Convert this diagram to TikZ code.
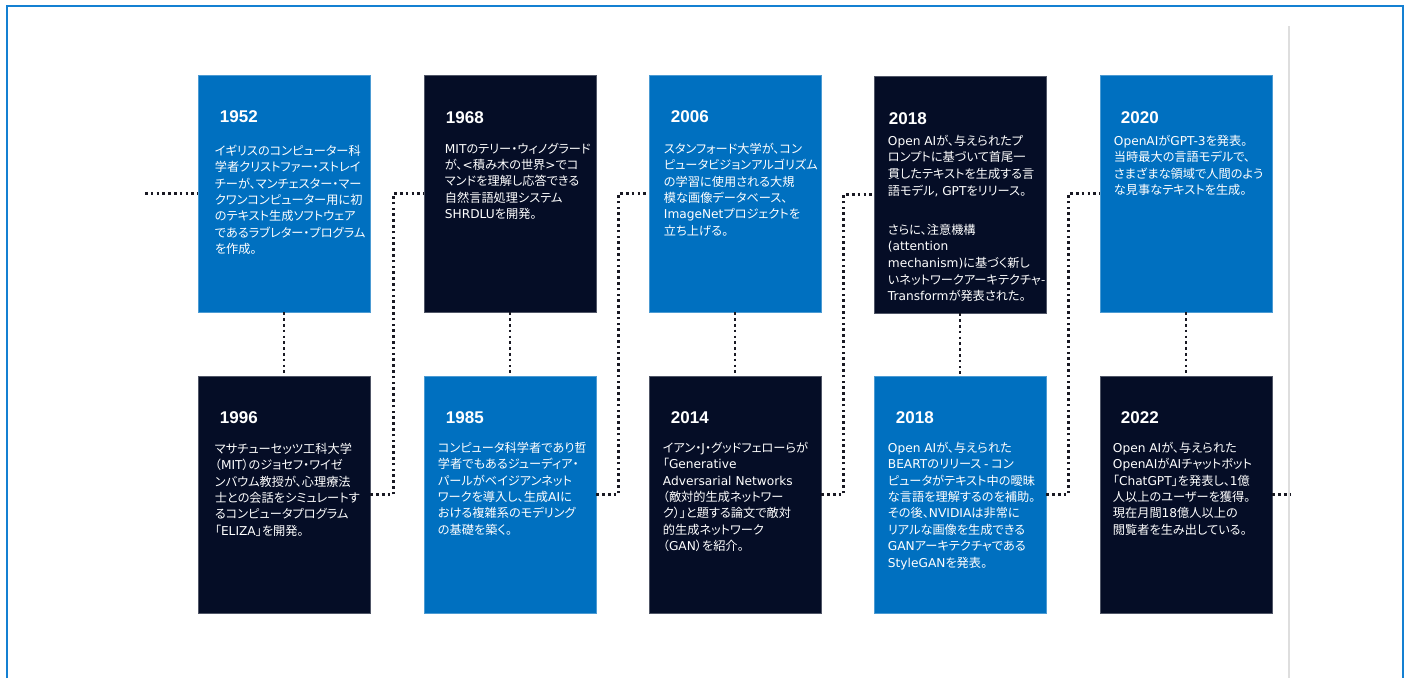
\documentclass[tikz,border=0pt]{standalone}
\usepackage{fontspec}
\usepackage{xcolor}
\usetikzlibrary{positioning}

\newfontfamily\jpfont{Noto Sans CJK JP}[RawFeature={+palt}]
\newfontfamily\engfont{DejaVu Sans}
\newfontfamily\yearfont{Liberation Sans}
\newcommand{\eng}[1]{{\engfont #1}}

\definecolor{tlblue}{RGB}{0,112,192}
\definecolor{tlnavy}{RGB}{5,13,38}
\definecolor{frameblue}{RGB}{20,128,210}
\definecolor{dotcol}{RGB}{25,25,35}

\begin{document}
\begin{tikzpicture}[x=1pt,y=-1pt,
    card/.style={minimum width=172pt,minimum height=237pt,inner sep=0pt},
    bluecard/.style={card,fill=tlblue,draw=tlblue!70!white,line width=0.6pt},
    navycard/.style={card,fill=tlnavy,draw=tlnavy!70!white,line width=0.6pt},
    year/.style={anchor=north west,inner sep=0pt,text=white,
      font=\yearfont\bfseries\fontsize{17}{20}\selectfont},
    body/.style={anchor=north west,inner sep=0pt,text=white,align=left,
      font=\jpfont\fontsize{12.2}{16.4}\selectfont},
    dotline/.style={dotcol,line width=2.6pt,dash pattern=on 2.6pt off 3.2pt}]
  \useasboundingbox (0,0) rectangle (1409,678);

  % frame and right rule
  \draw[frameblue,line width=1.2pt] (7,678) -- (7,6) -- (1403,6) -- (1403,678);
  \draw[black!13,line width=1.4pt] (1289,26) -- (1289,678);

  % top row
  \node[bluecard] (c1952) at (284,193.5) {};
  \node[navycard] (c1968) at (510,193.5) {};
  \node[bluecard] (c2006) at (735,193.5) {};
  \node[navycard] (c2018a) at (960,194.5) {};
  \node[bluecard] (c2020) at (1186,193.5) {};
  % bottom row
  \node[navycard] (c1996) at (284,494.5) {};
  \node[bluecard] (c1985) at (510,494.5) {};
  \node[navycard] (c2014) at (735,494.5) {};
  \node[bluecard] (c2018b) at (960,494.5) {};
  \node[navycard] (c2022) at (1186,494.5) {};

  \node[year] (y1952) at ([xshift=22pt,yshift=-36pt]c1952.north west) {1952};
  \node[body] (t1952) at ([xshift=17pt,yshift=-70pt]c1952.north west)
    {イギリスのコンピューター科\\学者クリストファー・ストレイ\\チーが、マンチェスター・マー\\クワンコンピューター用に初\\のテキスト生成ソフトウェア\\であるラブレター・プログラム\\を作成。};

  \node[year] (y1968) at ([xshift=22pt,yshift=-37pt]c1968.north west) {1968};
  \node[body] (t1968) at ([xshift=21pt,yshift=-68pt]c1968.north west)
    {\eng{MIT}のテリー・ウィノグラード\\が、\eng{<}積み木の世界\eng{>}でコ\\マンドを理解し応答できる\\自然言語処理システム\\\eng{SHRDLU}を開発。};

  \node[year] (y2006) at ([xshift=22pt,yshift=-36pt]c2006.north west) {2006};
  \node[body] (t2006) at ([xshift=15pt,yshift=-68pt]c2006.north west)
    {スタンフォード大学が、コン\\ピュータビジョンアルゴリズム\\の学習に使用される大規\\模な画像データベース、\\\eng{ImageNet}プロジェクトを\\立ち上げる。};

  \node[year] (y2018a) at ([xshift=15pt,yshift=-37pt]c2018a.north west) {2018};
  \node[body,font=\jpfont\fontsize{12.2}{16.7}\selectfont] (t2018a)
    at ([xshift=14pt,yshift=-59pt]c2018a.north west)
    {\eng{Open AI}が、与えられたプ\\ロンプトに基づいて首尾一\\貫したテキストを生成する言\\語モデル\eng{, GPT}をリリース。\\[22pt]さらに、注意機構\\\eng{(attention}\\\eng{mechanism)}に基づく新し\\いネットワークアーキテクチャ-\\\eng{Transform}が発表された。};

  \node[year] (y2020) at ([xshift=21pt,yshift=-37pt]c2020.north west) {2020};
  \node[body] (t2020) at ([xshift=14pt,yshift=-60pt]c2020.north west)
    {\eng{OpenAI}が\eng{GPT-3}を発表。\\当時最大の言語モデルで、\\さまざまな領域で人間のよう\\な見事なテキストを生成。};

  \node[year] (y1996) at ([xshift=22pt,yshift=-36pt]c1996.north west) {1996};
  \node[body] (t1996) at ([xshift=17pt,yshift=-67pt]c1996.north west)
    {マサチューセッツ工科大学\\（\eng{MIT}）のジョセフ・ワイゼ\\ンバウム教授が、心理療法\\士との会話をシミュレートす\\るコンピュータプログラム\\「\eng{ELIZA}」を開発。};

  \node[year] (y1985) at ([xshift=22pt,yshift=-36pt]c1985.north west) {1985};
  \node[body] (t1985) at ([xshift=14pt,yshift=-66pt]c1985.north west)
    {コンピュータ科学者であり哲\\学者でもあるジューディア・\\パールがベイジアンネット\\ワークを導入し、生成\eng{AI}に\\おける複雑系のモデリング\\の基礎を築く。};

  \node[year] (y2014) at ([xshift=22pt,yshift=-36pt]c2014.north west) {2014};
  \node[body] (t2014) at ([xshift=14pt,yshift=-66pt]c2014.north west)
    {イアン・\eng{J}・グッドフェローらが\\「\eng{Generative}\\\eng{Adversarial Networks}\\（敵対的生成ネットワー\\ク）」と題する論文で敵対\\的生成ネットワーク\\（\eng{GAN}）を紹介。};

  \node[year] (y2018b) at ([xshift=22pt,yshift=-36pt]c2018b.north west) {2018};
  \node[body] (t2018b) at ([xshift=14pt,yshift=-66pt]c2018b.north west)
    {\eng{Open AI}が、与えられた\\\eng{BEART}のリリース \eng{-} コン\\ピュータがテキスト中の曖昧\\な言語を理解するのを補助。\\その後、\eng{NVIDIA}は非常に\\リアルな画像を生成できる\\\eng{GAN}アーキテクチャである\\\eng{StyleGAN}を発表。};

  \node[year] (y2022) at ([xshift=21pt,yshift=-36pt]c2022.north west) {2022};
  \node[body] (t2022) at ([xshift=13pt,yshift=-66pt]c2022.north west)
    {\eng{Open AI}が、与えられた\\\eng{OpenAI}が\eng{AI}チャットボット\\「\eng{ChatGPT}」を発表し、\eng{1}億\\人以上のユーザーを獲得。\\現在月間\eng{18}億人以上の\\閲覧者を生み出している。};

  % dotted path through the years
  \coordinate (start) at (145,193.5);
  \coordinate (finish) at (1290,494.5);
  \draw[dotline] (start) -- (c1952.west);
  \draw[dotline] (c1952.south) -- (c1996.north);
  \draw[dotline] (c1996.east) -- ++(23,0) |- (c1968.west);
  \draw[dotline] (c1968.south) -- (c1985.north);
  \draw[dotline] (c1985.east) -- ++(22,0) |- (c2006.west);
  \draw[dotline] (c2006.south) -- (c2014.north);
  \draw[dotline] (c2014.east) -- ++(22,0) |- (c2018a.west);
  \draw[dotline] (c2018a.south) -- (c2018b.north);
  \draw[dotline] (c2018b.east) -- ++(22,0) |- (c2020.west);
  \draw[dotline] (c2020.south) -- (c2022.north);
  \draw[dotline] (c2022.east) -- (finish);
\end{tikzpicture}
\end{document}
